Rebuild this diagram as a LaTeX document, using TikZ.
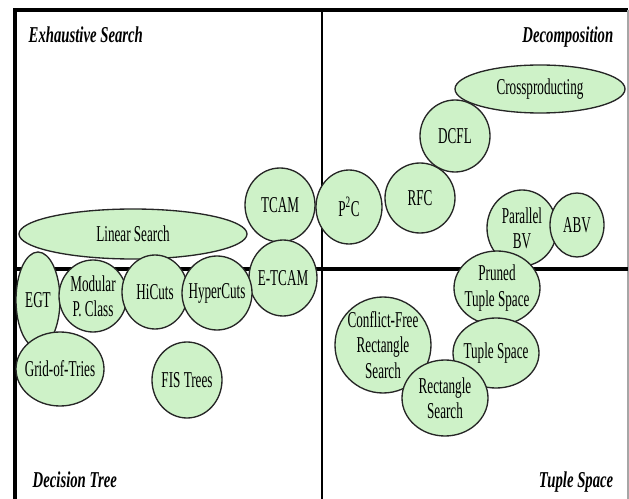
\documentclass[tikz,border=0pt]{standalone}
\usepackage{fontspec}
\setmainfont{Liberation Serif}[FakeStretch=0.65]
\newfontfamily\tagfont{Liberation Serif}[FakeStretch=0.58]
\usetikzlibrary{shapes.geometric}
\definecolor{leaf}{RGB}{206,242,200}
\tikzset{
  elli/.style 2 args={minimum width=#1*1.5pt,minimum height=#2*1.5pt},
  tag/.style={align=center,inner sep=0pt,font=\tagfont\fontsize{17}{19}\selectfont}
}

\begin{document}
\begin{tikzpicture}[x=0.75pt,y=-0.75pt]
\useasboundingbox (0,0) rectangle (629,499);

% frame and quadrants
\coordinate (tl) at (15,10);
\coordinate (tr) at (628,10);
\coordinate (bl) at (15,499);
\coordinate (br) at (628,499);
\coordinate (vt) at (322,10);
\coordinate (vb) at (322,499);
\coordinate (hl) at (15,269);
\coordinate (hr) at (628,269);
\draw[line width=2.3pt] (bl) -- (tl) -- (tr);
\draw[gray!70,line width=0.8pt] (tr) -- (br);
\draw[line width=2pt] (vt) -- (vb);
\draw[line width=3pt] (hl) -- (hr);

\begin{scope}[every node/.style={font=\fontsize{17}{19}\selectfont\bfseries\itshape}]
    \node[anchor=base west] (exh) at (24,43) {Exhaustive Search};
    \node[anchor=base east] (dec) at (618,43) {Decomposition};
    \node[anchor=base west] (dtree) at (28,487) {Decision Tree};
    \node[anchor=base east] (tspace) at (618,487) {Tuple Space};
\end{scope}

\begin{scope}[every node/.style={ellipse,draw=black!85,line width=1pt,fill=leaf,inner sep=0pt}]
    \node[elli={114}{25},label={[tag]center:Linear Search}] (ls) at (133,234) {};
    \node[elli={35}{37},label={[tag]center:TCAM}] (tcam) at (280,205) {};
    \node[elli={34}{38},label={[tag]center:E-TCAM}] (etcam) at (283,278) {};
    \node[elli={33}{37},label={[tag]center:P\textsuperscript{2}C}] (ptc) at (349,207) {};
    \node[elli={35}{35},label={[tag]center:RFC}] (rfc) at (420,198) {};
    \node[elli={35}{36},label={[tag]center:DCFL}] (dcfl) at (455,136) {};
    \node[elli={85}{24},label={[tag]center:Crossproducting}] (xprod) at (540,89) {};
    \node[elli={35}{38},label={[tag]center:Parallel\\BV}] (pbv) at (522,228) {};
    \node[elli={27}{32},label={[tag]center:ABV}] (abv) at (577,225) {};
    \node[elli={43}{37},label={[tag]center:Pruned\\Tuple Space}] (pts) at (497,288) {};
    \node[elli={43}{35},label={[tag]center:Tuple Space}] (ts) at (496,353) {};
    \node[elli={48}{48},label={[tag]center:Conflict-Free\\Rectangle\\Search}] (cfrs) at (383,345) {};
    \node[elli={43}{38},label={[tag]center:Rectangle\\Search}] (rs) at (445,398) {};
    \node[elli={22}{48},label={[tag]center:EGT}] (egt) at (38,300) {};
    \node[elli={34}{36},label={[tag]center:Modular\\P. Class}] (mpc) at (93,296) {};
    \node[elli={33}{37},label={[tag]center:HiCuts}] (hicuts) at (155,292) {};
    \node[elli={35}{37},label={[tag]center:HyperCuts}] (hypercuts) at (217,293) {};
    \node[elli={44}{37},label={[tag]center:Grid-of-Tries}] (got) at (60,369) {};
    \node[elli={35}{38},label={[tag]center:FIS Trees}] (fis) at (187,380) {};
\end{scope}
\end{tikzpicture}
\end{document}
